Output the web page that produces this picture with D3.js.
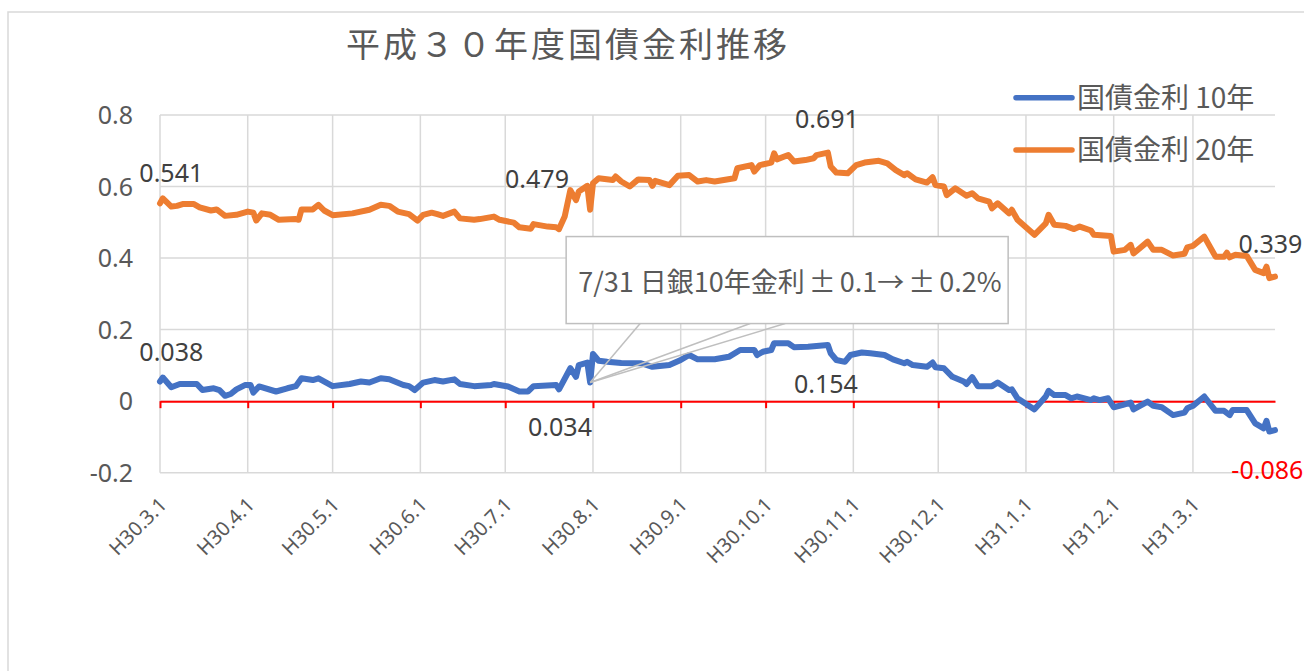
<!DOCTYPE html>
<html><head><meta charset="utf-8">
<script src="https://cdn.jsdelivr.net/npm/d3@7"></script>
<style>
html,body{margin:0;padding:0;background:#fff;}
svg{display:block;}
text{font-family:"Noto Sans","Noto Sans CJK JP",sans-serif;}
.cjk{font-family:"Noto Sans CJK JP","Noto Sans",sans-serif;}
</style></head>
<body>
<svg id="chart" width="1304" height="671"></svg>
<script>
const titleText = "平成３０年度国債金利推移";
const seriesNames = ["国債金利 10年", "国債金利 20年"];
const yTicks = [-0.2, 0, 0.2, 0.4, 0.6, 0.8];
const yTickLabels = ["-0.2", "0", "0.2", "0.4", "0.6", "0.8"];
const xTickLabels = ["H30.3.1","H30.4.1","H30.5.1","H30.6.1","H30.7.1","H30.8.1","H30.9.1","H30.10.1","H30.11.1","H30.12.1","H31.1.1","H31.2.1","H31.3.1"];

const dates10 = ["2018-03-01","2018-03-02","2018-03-05","2018-03-08","2018-03-14","2018-03-16","2018-03-20","2018-03-22","2018-03-24","2018-03-26","2018-03-28","2018-03-31","2018-04-02","2018-04-03","2018-04-05","2018-04-11","2018-04-15","2018-04-18","2018-04-20","2018-04-24","2018-04-26","2018-05-01","2018-05-07","2018-05-11","2018-05-14","2018-05-18","2018-05-21","2018-05-26","2018-05-28","2018-05-30","2018-06-02","2018-06-06","2018-06-09","2018-06-13","2018-06-15","2018-06-20","2018-06-26","2018-06-27","2018-07-02","2018-07-06","2018-07-09","2018-07-11","2018-07-19","2018-07-20","2018-07-24","2018-07-26","2018-07-27","2018-07-30","2018-07-31","2018-08-01","2018-08-03","2018-08-06","2018-08-11","2018-08-18","2018-08-22","2018-08-28","2018-09-01","2018-09-04","2018-09-07","2018-09-13","2018-09-18","2018-09-22","2018-09-27","2018-09-28","2018-09-30","2018-10-03","2018-10-04","2018-10-09","2018-10-11","2018-10-16","2018-10-19","2018-10-23","2018-10-24","2018-10-26","2018-10-29","2018-10-31","2018-11-04","2018-11-07","2018-11-12","2018-11-15","2018-11-19","2018-11-20","2018-11-22","2018-11-27","2018-11-29","2018-11-30","2018-12-03","2018-12-06","2018-12-10","2018-12-11","2018-12-13","2018-12-15","2018-12-20","2018-12-22","2018-12-26","2018-12-27","2018-12-29","2019-01-04","2019-01-08","2019-01-09","2019-01-11","2019-01-15","2019-01-17","2019-01-19","2019-01-24","2019-01-25","2019-01-27","2019-01-30","2019-02-01","2019-02-04","2019-02-07","2019-02-08","2019-02-13","2019-02-15","2019-02-18","2019-02-22","2019-02-26","2019-02-27","2019-03-01","2019-03-05","2019-03-09","2019-03-12","2019-03-14","2019-03-15","2019-03-20","2019-03-23","2019-03-26","2019-03-27","2019-03-28","2019-03-30"];
const values10 = [0.055,0.066,0.039,0.048,0.048,0.031,0.036,0.031,0.015,0.020,0.033,0.045,0.045,0.024,0.041,0.027,0.036,0.042,0.064,0.059,0.064,0.042,0.048,0.055,0.052,0.064,0.061,0.045,0.042,0.031,0.052,0.059,0.055,0.061,0.048,0.042,0.045,0.048,0.041,0.027,0.027,0.042,0.045,0.033,0.092,0.068,0.101,0.108,0.052,0.132,0.113,0.110,0.107,0.106,0.096,0.101,0.115,0.129,0.117,0.117,0.124,0.143,0.143,0.129,0.138,0.143,0.162,0.162,0.151,0.152,0.154,0.157,0.134,0.115,0.110,0.129,0.136,0.134,0.129,0.117,0.106,0.110,0.101,0.096,0.108,0.095,0.092,0.068,0.055,0.048,0.067,0.042,0.042,0.052,0.031,0.033,0.008,-0.023,0.013,0.029,0.017,0.017,0.008,0.013,0.003,0.008,0.003,0.008,-0.017,-0.011,-0.004,-0.023,-0.001,-0.013,-0.017,-0.039,-0.032,-0.020,-0.013,0.013,-0.027,-0.027,-0.039,-0.025,-0.025,-0.062,-0.076,-0.055,-0.085,-0.081];

const dates20 = ["2018-03-01","2018-03-02","2018-03-05","2018-03-07","2018-03-09","2018-03-13","2018-03-15","2018-03-19","2018-03-21","2018-03-24","2018-03-28","2018-04-01","2018-04-03","2018-04-04","2018-04-06","2018-04-09","2018-04-12","2018-04-18","2018-04-19","2018-04-20","2018-04-24","2018-04-26","2018-04-28","2018-05-01","2018-05-08","2018-05-14","2018-05-18","2018-05-21","2018-05-24","2018-05-28","2018-05-31","2018-06-02","2018-06-05","2018-06-07","2018-06-09","2018-06-13","2018-06-15","2018-06-20","2018-06-22","2018-06-27","2018-06-29","2018-07-04","2018-07-06","2018-07-10","2018-07-11","2018-07-16","2018-07-19","2018-07-20","2018-07-22","2018-07-24","2018-07-26","2018-07-27","2018-07-30","2018-07-31","2018-08-01","2018-08-03","2018-08-08","2018-08-09","2018-08-11","2018-08-14","2018-08-17","2018-08-21","2018-08-22","2018-08-23","2018-08-28","2018-08-31","2018-09-04","2018-09-07","2018-09-10","2018-09-13","2018-09-20","2018-09-21","2018-09-26","2018-09-27","2018-09-29","2018-10-03","2018-10-04","2018-10-05","2018-10-09","2018-10-11","2018-10-15","2018-10-18","2018-10-19","2018-10-23","2018-10-24","2018-10-26","2018-10-30","2018-11-02","2018-11-05","2018-11-10","2018-11-13","2018-11-16","2018-11-19","2018-11-20","2018-11-23","2018-11-27","2018-11-29","2018-11-30","2018-12-03","2018-12-04","2018-12-07","2018-12-11","2018-12-13","2018-12-15","2018-12-19","2018-12-20","2018-12-22","2018-12-26","2018-12-27","2018-12-29","2019-01-04","2019-01-08","2019-01-09","2019-01-11","2019-01-15","2019-01-18","2019-01-20","2019-01-24","2019-01-25","2019-01-31","2019-02-01","2019-02-05","2019-02-07","2019-02-08","2019-02-13","2019-02-15","2019-02-18","2019-02-22","2019-02-26","2019-02-27","2019-03-01","2019-03-05","2019-03-09","2019-03-12","2019-03-13","2019-03-14","2019-03-16","2019-03-20","2019-03-23","2019-03-26","2019-03-27","2019-03-28","2019-03-30"];
const values20 = [0.553,0.567,0.544,0.546,0.551,0.551,0.542,0.533,0.536,0.518,0.521,0.530,0.527,0.505,0.525,0.521,0.507,0.509,0.507,0.536,0.536,0.549,0.533,0.520,0.525,0.535,0.549,0.546,0.530,0.523,0.505,0.521,0.527,0.523,0.518,0.530,0.511,0.507,0.509,0.516,0.507,0.499,0.486,0.482,0.495,0.488,0.486,0.481,0.516,0.590,0.562,0.586,0.602,0.535,0.609,0.623,0.618,0.628,0.614,0.600,0.620,0.618,0.602,0.616,0.604,0.630,0.632,0.614,0.618,0.614,0.623,0.651,0.660,0.642,0.660,0.667,0.693,0.676,0.688,0.670,0.674,0.679,0.688,0.695,0.656,0.639,0.637,0.660,0.667,0.672,0.665,0.646,0.632,0.637,0.620,0.611,0.626,0.604,0.600,0.576,0.595,0.574,0.581,0.567,0.558,0.539,0.553,0.525,0.535,0.507,0.465,0.497,0.521,0.493,0.490,0.481,0.488,0.477,0.465,0.462,0.418,0.423,0.437,0.413,0.446,0.423,0.423,0.407,0.412,0.430,0.434,0.460,0.404,0.404,0.415,0.402,0.409,0.406,0.367,0.358,0.376,0.344,0.348];

// annotations: text, series index, date of the point
const labelTexts  = ["0.541","0.479","0.691","0.339","0.038","0.034","0.154","-0.086"];
const labelSeries = [1,1,1,1,0,0,0,0];
const labelDates  = ["2018-03-05","2018-07-20","2018-10-23","2019-03-28","2018-03-05","2018-07-20","2018-10-23","2019-03-28"];
const calloutParts = ["7/31 日銀10年金利", "±", "0.1→", "±", "0.2%"];
const calloutDate = "2018-07-31";

// ---- styles / layout ----
const labelOffsets = [[0,-25],[-22,-41],[-1,-25],[1,-25],[0,-26],[1,47],[-2,48],[-2,47]];
const labelColors = ["#404040","#404040","#404040","#404040","#404040","#404040","#404040","#ff0000"];
const colors = ["#4472C4", "#ED7D31"];
const calloutDx = [0, 4, 4, 4, 4];

const parse = d3.timeParse("%Y-%m-%d");
const svg = d3.select("#chart");

const x = d3.scaleTime().domain([new Date(2018,2,1), new Date(2019,2,30)]).range([160, 1275]);
const y = d3.scaleLinear().domain([-0.2, 0.8]).range([472.7, 115]);

// chart border
svg.append("rect").attr("x",8).attr("y",12).attr("width",1320).attr("height",700)
  .attr("fill","none").attr("stroke","#d9d9d9").attr("stroke-width",1.5);

// title
svg.append("text").attr("class","cjk").attr("x",346).attr("y",57)
  .attr("font-size",34).attr("letter-spacing",3).attr("fill","#595959").text(titleText);

const monthTicks = d3.timeMonth.range(new Date(2018,2,1), new Date(2019,2,2));

// gridlines
const grid = svg.append("g");
grid.selectAll("line.h").data(yTicks).join("line")
  .attr("x1", x.range()[0]).attr("x2", x.range()[1])
  .attr("y1", d=>y(d)).attr("y2", d=>y(d))
  .attr("stroke","#d9d9d9").attr("stroke-width",1.5);
grid.selectAll("line.v").data(monthTicks).join("line")
  .attr("x1", d=>x(d)).attr("x2", d=>x(d))
  .attr("y1", y(0.8)).attr("y2", y(-0.2))
  .attr("stroke","#d9d9d9").attr("stroke-width",1.5);

// y labels
svg.append("g").selectAll("text").data(yTicks).join("text")
  .attr("x",133).attr("y", d=>y(d)).attr("dy","0.36em")
  .attr("text-anchor","end").attr("font-size",25).attr("fill","#595959")
  .text((d,i)=>yTickLabels[i]);

// red zero axis with ticks
const zeroAxis = d3.axisBottom(x).tickValues(monthTicks).tickSize(7).tickFormat("").tickSizeOuter(0);
const za = svg.append("g").attr("transform",`translate(0,${y(0)})`).call(zeroAxis);
za.select(".domain").attr("stroke","#ff0000").attr("stroke-width",2);
za.selectAll(".tick line").attr("stroke","#ff0000").attr("stroke-width",2);

// x labels
svg.append("g").selectAll("text").data(monthTicks).join("text")
  .attr("transform", d=>`translate(${x(d)+8},506) rotate(-45)`)
  .attr("text-anchor","end").attr("font-size",20).attr("fill","#595959")
  .text((d,i)=>xTickLabels[i]);

// series
const series = [
  dates10.map((d,i)=>({date:parse(d), v:values10[i]})),
  dates20.map((d,i)=>({date:parse(d), v:values20[i]}))
];
const line = d3.line().x(d=>x(d.date)).y(d=>y(d.v));
svg.append("g").selectAll("path").data(series).join("path")
  .attr("d", line).attr("fill","none")
  .attr("stroke",(d,i)=>colors[i]).attr("stroke-width",6)
  .attr("stroke-linejoin","round").attr("stroke-linecap","round");

// data labels
function pointAt(si, ds){ const t = +parse(ds); return series[si].find(p=>+p.date===t); }
svg.append("g").selectAll("text").data(labelTexts).join("text")
  .attr("x",(d,i)=>x(pointAt(labelSeries[i],labelDates[i]).date)+labelOffsets[i][0])
  .attr("y",(d,i)=>y(pointAt(labelSeries[i],labelDates[i]).v)+labelOffsets[i][1])
  .attr("text-anchor","middle").attr("font-size",25)
  .attr("fill",(d,i)=>labelColors[i]).text(d=>d);

// callout
const tip = pointAt(0, calloutDate);
const tx = x(tip.date), ty = y(tip.v);
const cg = svg.append("g");
const boxL = tx-24, boxT = ty-146, boxW = 442, boxH = 87;
[50,160,195].forEach(dx=>{
  cg.append("line").attr("x1",tx).attr("y1",ty).attr("x2",tx+dx).attr("y2",boxT+boxH)
    .attr("stroke","#bfbfbf").attr("stroke-width",1.5);
});
cg.append("rect").attr("x",boxL).attr("y",boxT).attr("width",boxW).attr("height",boxH)
  .attr("fill","#fff").attr("stroke","#bfbfbf").attr("stroke-width",1.5);
const ct = cg.append("text").attr("class","cjk").attr("x",boxL+12).attr("y",boxT+55)
  .attr("font-size",27).attr("fill","#595959");
calloutParts.forEach((p,i)=>ct.append("tspan").attr("dx",calloutDx[i]).text(p));

// legend
const lg = svg.append("g");
seriesNames.forEach((n,i)=>{
  const ly = 97.7 + i*52.3;
  lg.append("line").attr("x1",1016).attr("x2",1072).attr("y1",ly).attr("y2",ly)
    .attr("stroke",colors[i]).attr("stroke-width",5.5).attr("stroke-linecap","round");
  lg.append("text").attr("class","cjk").attr("x",1077).attr("y",ly).attr("dy","0.36em")
    .attr("font-size",28).attr("fill","#595959").text(n);
});
</script>
</body></html>
